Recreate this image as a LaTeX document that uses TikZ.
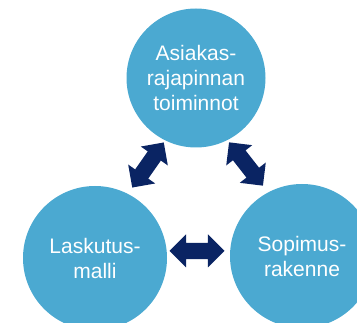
\documentclass[tikz,border=0pt]{standalone}
\usepackage{fontspec}
\setmainfont{Liberation Sans}
\usepackage{xcolor}
\usetikzlibrary{shapes.arrows}

\definecolor{ballblue}{HTML}{4BA9D1}
\definecolor{arrownavy}{HTML}{0A2463}

\tikzset{
    ball/.style={circle, fill=ballblue, text=white, align=center,
        font=\fontsize{21}{25}\selectfont, inner sep=0pt},
    link/.style={double arrow, fill=arrownavy, inner xsep=0pt,
        inner ysep=6.5pt, minimum width=33pt, minimum height=55pt}
}

\begin{document}
\begin{tikzpicture}[x=1pt, y=-1pt]
        \useasboundingbox (0,0) rectangle (357,323);
        % circles
        \node[ball, minimum size=139pt] (asiakas) at (196,78) {Asiakas-\\rajapinnan\\toiminnot};
        \node[ball, minimum size=144pt] (laskutus) at (95,258) {Laskutus-\\malli};
        \node[ball, minimum size=144pt] (sopimus) at (302,256) {Sopimus-\\rakenne};
        % arrows between them
        \node[link, rotate=55] (al) at (148,165) {};
        \node[link, rotate=-52] (as) at (246,164) {};
        \node[link] (ls) at (197,251) {};
\end{tikzpicture}
\end{document}
